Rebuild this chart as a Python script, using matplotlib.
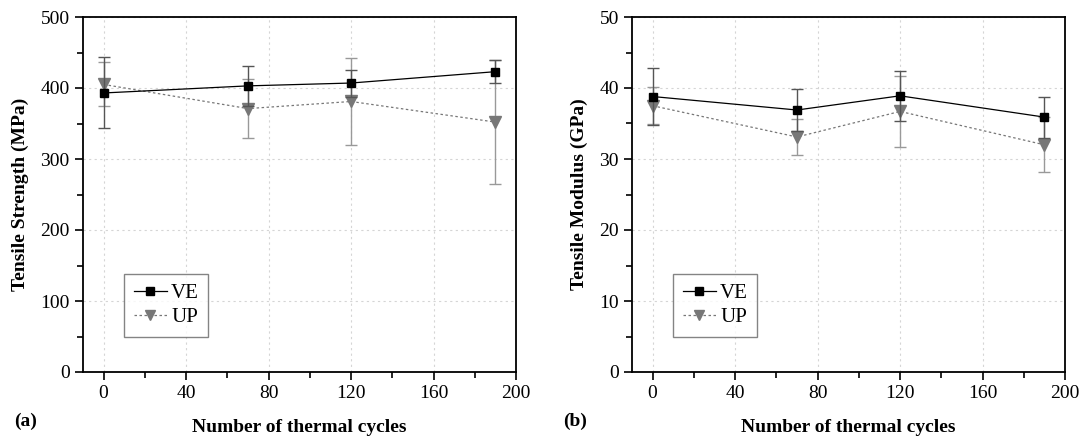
import numpy as np
import matplotlib
matplotlib.use('Agg')
import matplotlib.pyplot as plt
from matplotlib.ticker import MultipleLocator
from matplotlib.lines import Line2D

plt.rcParams['font.family'] = ['Liberation Serif', 'DejaVu Serif']

cycles = [0, 70, 120, 190]

# tensile strength (MPa)
ve_strength = [393, 403, 407, 423]
ve_strength_err = [50, 28, 19, 16]
up_strength = [405, 371, 381, 352]
up_strength_err = [31, 41, 61, 87]

# tensile modulus (GPa)
ve_modulus = [38.8, 36.9, 38.9, 35.9]
ve_modulus_err = [4.0, 3.0, 3.5, 2.9]
up_modulus = [37.5, 33.1, 36.7, 32.0]
up_modulus_err = [2.6, 2.5, 5.0, 3.9]

fig = plt.figure(figsize=(10.83, 4.37), dpi=100)
ax1 = fig.add_axes([83/1083, 1-372/437, 433/1083, 355/437])
ax2 = fig.add_axes([632/1083, 1-372/437, 433/1083, 355/437])


def draw(ax, ve, ve_err, up, up_err, ymax, ystep, ylabel, tag):
    ax.errorbar(cycles, up, yerr=up_err, color='#777777', ecolor='#999999',
                linestyle=(0, (2, 2)), linewidth=0.9, marker='v', markersize=8,
                capsize=4, elinewidth=1, zorder=3)
    ax.errorbar(cycles, ve, yerr=ve_err, color='black', ecolor='#555555',
                linestyle='-', linewidth=0.9, marker='s', markersize=6,
                capsize=4, elinewidth=1, zorder=4)
    ax.set_xlim(-10, 200)
    ax.set_ylim(0, ymax)
    ax.xaxis.set_major_locator(MultipleLocator(40))
    ax.xaxis.set_minor_locator(MultipleLocator(20))
    ax.yaxis.set_major_locator(MultipleLocator(ystep))
    ax.yaxis.set_minor_locator(MultipleLocator(ystep / 2))
    ax.tick_params(which='both', direction='out', top=False, right=False,
                   labelsize=14, width=1.2)
    ax.tick_params(which='major', length=6)
    ax.tick_params(which='minor', length=4)
    ax.grid(True, which='major', color='#d5d5d5', linestyle=(0, (2, 3)), linewidth=0.8)
    ax.set_axisbelow(True)
    for s in ax.spines.values():
        s.set_linewidth(1.3)
    ax.set_xlabel('Number of thermal cycles', fontsize=14, fontweight='bold', labelpad=12)
    ax.set_ylabel(ylabel, fontsize=14, fontweight='bold', labelpad=8)
    handles = [
        Line2D([], [], color='black', linewidth=0.9, marker='s', markersize=5.5),
        Line2D([], [], color='#777777', linestyle=(0, (2, 2)), linewidth=0.9,
               marker='v', markersize=7.5),
    ]
    leg = ax.legend(handles, ['VE', 'UP'], loc='lower left', bbox_to_anchor=(0.095, 0.1),
                    fontsize=15, frameon=True, fancybox=False, edgecolor='#666666',
                    handlelength=1.6, handletextpad=0.2, borderpad=0.45,
                    labelspacing=0.2, borderaxespad=0)
    leg.get_frame().set_linewidth(1.0)
    ax.text(-0.16, -0.115, tag, transform=ax.transAxes, fontsize=14,
            fontweight='bold', va='top')


draw(ax1, ve_strength, ve_strength_err, up_strength, up_strength_err,
     500, 100, 'Tensile Strength (MPa)', '(a)')
draw(ax2, ve_modulus, ve_modulus_err, up_modulus, up_modulus_err,
     50, 10, 'Tensile Modulus (GPa)', '(b)')

fig.savefig('out.png', dpi=100)
